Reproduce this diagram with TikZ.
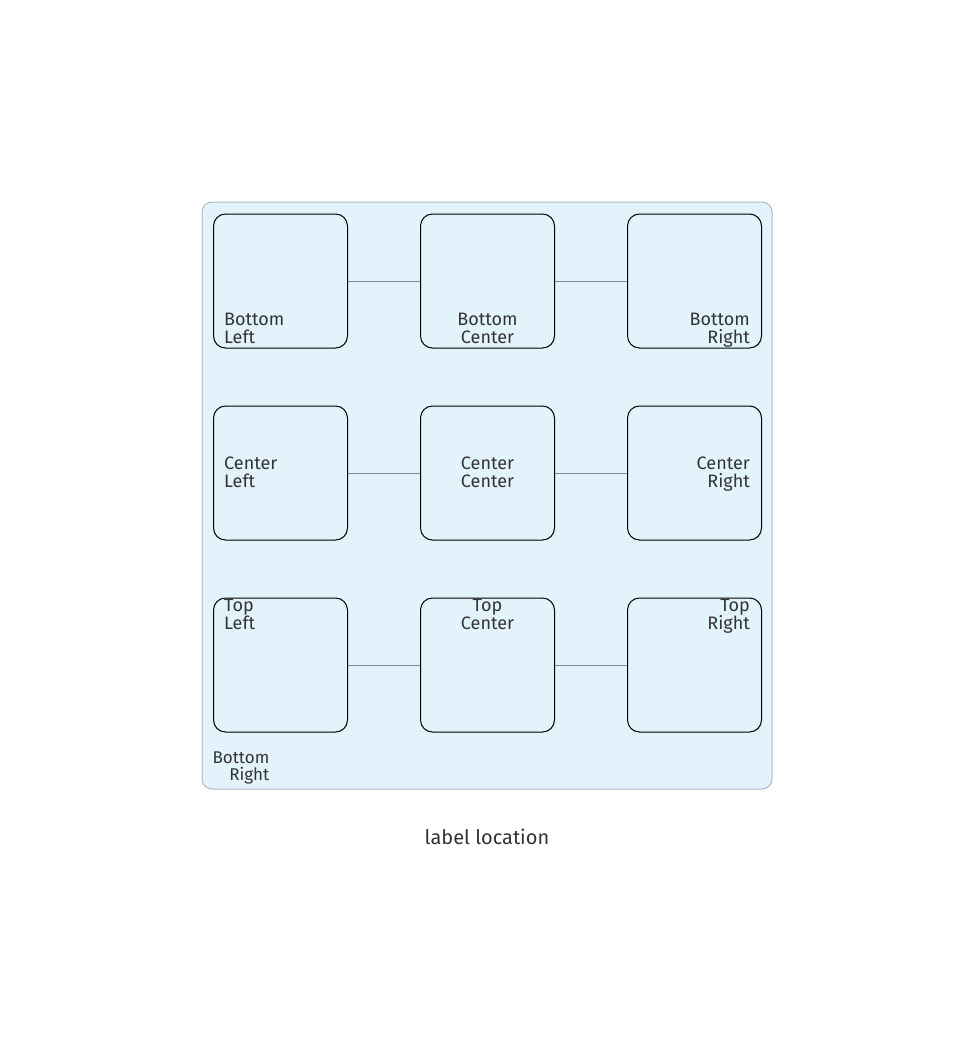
\documentclass[tikz,border=0pt]{standalone}
\usepackage{fontspec}
\setmainfont{Fira Sans}
\usetikzlibrary{positioning}
\definecolor{groupfill}{RGB}{227,243,252}
\definecolor{groupline}{RGB}{172,184,198}
\definecolor{textgray}{RGB}{51,51,51}
\definecolor{linkgray}{RGB}{128,138,146}

\begin{document}
\begin{tikzpicture}[
        x=1pt, y=-1pt,
        node distance=57pt and 72pt,
        group/.style={
            rectangle,
            rounded corners=10pt,
            minimum width=570pt,
            minimum height=587pt,
            draw=groupline,
            line width=1pt,
            fill=groupfill
        },
        cell/.style={
            rectangle,
            rounded corners=12pt,
            minimum width=134pt,
            minimum height=134pt,
            draw=black,
            line width=1pt,
            fill=groupfill,
            inner sep=0pt
        },
        txt/.style={
            font=\fontsize{18}{18}\selectfont,
            text=textgray,
            inner sep=0pt
        },
        link/.style={
            line width=1pt,
            color=linkgray
        }
    ]
    \useasboundingbox (0,0) rectangle (975,1049);

    % Outer group
    \node[group] (grp) at (487,495.5) {};

    % Middle row
    \node[cell] (cc) at (487.5,473) {};
    \node[cell, left=of cc] (cl) {};
    \node[cell, right=of cc] (cr) {};

    % Top row (Bottom labels)
    \node[cell, above=of cc] (bc) {};
    \node[cell, above=of cl] (bl) {};
    \node[cell, above=of cr] (br) {};

    % Bottom row (Top labels)
    \node[cell, below=of cc] (tc) {};
    \node[cell, below=of cl] (tl) {};
    \node[cell, below=of cr] (tr) {};

    % Links
    \draw[link] (bl) -- (bc);
    \draw[link] (bc) -- (br);
    \draw[link] (cl) -- (cc);
    \draw[link] (cc) -- (cr);
    \draw[link] (tl) -- (tc);
    \draw[link] (tc) -- (tr);

    % Labels
    \node[txt, anchor=west, align=left] (bltxt) at ([shift={(11,-17.5)}]bl.south west) {Bottom\\Left\strut};
    \node[txt, align=center] (bctxt) at ([shift={(0,-17.5)}]bc.south) {Bottom\\Center\strut};
    \node[txt, anchor=east, align=right] (brtxt) at ([shift={(-12,-17.5)}]br.south east) {Bottom\\Right\strut};

    \node[txt, anchor=west, align=left] (cltxt) at ([shift={(11,1.5)}]cl.west) {Center\\Left\strut};
    \node[txt, align=center] (cctxt) at ([shift={(0,1.5)}]cc.center) {Center\\Center\strut};
    \node[txt, anchor=east, align=right] (crtxt) at ([shift={(-12,1.5)}]cr.east) {Center\\Right\strut};

    \node[txt, anchor=west, align=left] (tltxt) at ([shift={(11,19.5)}]tl.north west) {Top\\Left\strut};
    \node[txt, align=center] (tctxt) at ([shift={(0,19.5)}]tc.north) {Top\\Center\strut};
    \node[txt, anchor=east, align=right] (trtxt) at ([shift={(-12,19.5)}]tr.north east) {Top\\Right\strut};

    % Group label
    \node[txt, font=\fontsize{17}{17}\selectfont, anchor=east, align=right] (grptxt) at ([shift={(68,-21)}]grp.south west) {Bottom\\Right\strut};

    % Caption
    \node[txt, font=\fontsize{20}{22}\selectfont] (caption) at (487,837) {label location};

\end{tikzpicture}
\end{document}
